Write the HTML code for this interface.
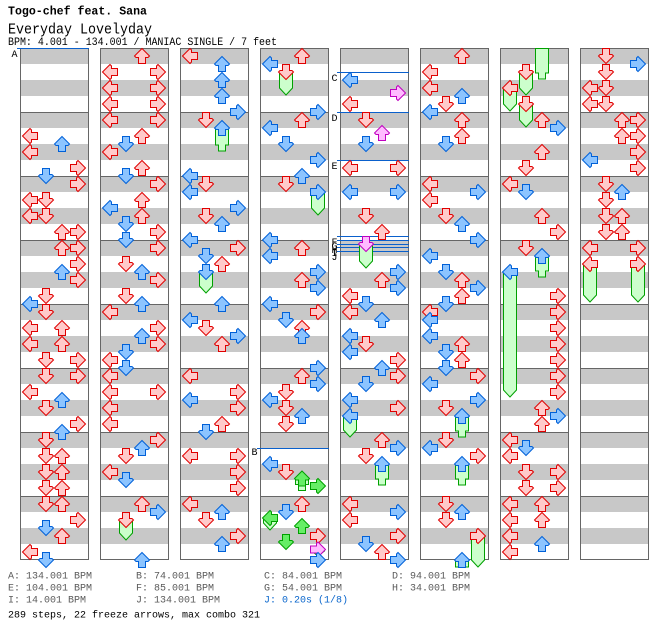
<!DOCTYPE html>
<html><head><meta charset="utf-8"><style>
html,body{margin:0;padding:0;background:#fff;}
svg{display:block;}
.q{fill:#ffcaca;stroke:#e00000;stroke-width:1}
.e{fill:#8cc4ff;stroke:#0060d8;stroke-width:1}
.g{fill:#66ee66;stroke:#00a000;stroke-width:1}
.s{fill:#ffbbff;stroke:#c000c0;stroke-width:1}
.f{fill:#ccffcc;stroke:#00a000;stroke-width:1}
text{font-family:"Liberation Mono",monospace;}
</style></head><body>
<svg width="672" height="644" viewBox="0 0 672 644" xmlns="http://www.w3.org/2000/svg">
<defs>
<pattern id="st" patternUnits="userSpaceOnUse" x="0" y="48" width="672" height="64"><rect width="672" height="16" fill="#c8c8c8"/><rect y="32" width="672" height="16" fill="#c8c8c8"/><rect width="672" height="1" fill="#666"/></pattern>
<path id="U" d="M8 .5L15.5 8L14 9.5H11.5V15.5H4.5V9.5H2L.5 8Z"/>
<path id="D" d="M8 15.5L.5 8L2 6.5H4.5V.5H11.5V6.5H14L15.5 8Z"/>
<path id="L" d="M.5 8L8 .5L9.5 2V4.5H15.5V11.5H9.5V14L8 15.5Z"/>
<path id="R" d="M15.5 8L8 .5L6.5 2V4.5H.5V11.5H6.5V14L8 15.5Z"/>
</defs>
<rect width="672" height="644" fill="#fff"/>
<text x="8" y="14.5" font-size="12" font-weight="bold" textLength="139" lengthAdjust="spacingAndGlyphs">Togo-chef feat. Sana</text>
<text x="8" y="33.5" font-size="15" textLength="144" lengthAdjust="spacingAndGlyphs">Everyday Lovelyday</text>
<text x="8" y="45" font-size="11" textLength="269" lengthAdjust="spacingAndGlyphs">BPM: 4.001 - 134.001 / MANIAC SINGLE / 7 feet</text>

<g>
<rect x="20" y="48" width="68" height="512" fill="url(#st)"/><rect x="20.5" y="48.5" width="68" height="511" fill="none" stroke="#666"/>
<rect x="100" y="48" width="68" height="512" fill="url(#st)"/><rect x="100.5" y="48.5" width="68" height="511" fill="none" stroke="#666"/>
<rect x="180" y="48" width="68" height="512" fill="url(#st)"/><rect x="180.5" y="48.5" width="68" height="511" fill="none" stroke="#666"/>
<rect x="260" y="48" width="68" height="512" fill="url(#st)"/><rect x="260.5" y="48.5" width="68" height="511" fill="none" stroke="#666"/>
<rect x="340" y="48" width="68" height="512" fill="url(#st)"/><rect x="340.5" y="48.5" width="68" height="511" fill="none" stroke="#666"/>
<rect x="420" y="48" width="68" height="512" fill="url(#st)"/><rect x="420.5" y="48.5" width="68" height="511" fill="none" stroke="#666"/>
<rect x="500" y="48" width="68" height="512" fill="url(#st)"/><rect x="500.5" y="48.5" width="68" height="511" fill="none" stroke="#666"/>
<rect x="580" y="48" width="68" height="512" fill="url(#st)"/><rect x="580.5" y="48.5" width="68" height="511" fill="none" stroke="#666"/>
</g>

<g stroke="#0a60cc" stroke-width="1">
<line x1="17" y1="48.5" x2="89" y2="48.5"/>
<line x1="257" y1="448.5" x2="329" y2="448.5"/>
<line x1="337" y1="72.5" x2="409" y2="72.5"/>
<line x1="337" y1="112.5" x2="409" y2="112.5"/>
<line x1="337" y1="160.5" x2="409" y2="160.5"/>
<line x1="337" y1="236.5" x2="409" y2="236.5"/>
<line x1="337" y1="240.5" x2="409" y2="240.5"/>
<line x1="337" y1="244.5" x2="409" y2="244.5"/>
<line x1="337" y1="247.5" x2="409" y2="247.5"/>
<line x1="337" y1="251.5" x2="409" y2="251.5"/>
</g>
<g font-size="10" fill="#000">
<text x="11.5" y="57">A</text>
<text x="251.5" y="455">B</text>
<text x="331.5" y="81">C</text>
<text x="331.5" y="121">D</text>
<text x="331.5" y="169">E</text>
<text x="331.5" y="245">F</text>
<text x="331.5" y="249">G</text>
<text x="331.5" y="253">H</text>
<text x="331.5" y="256">I</text>
<text x="331.5" y="260">J</text>
</g>

<g class="f">
<path d="M119.5 520H132.5V533L126 540L119.5 533Z"/>
<path d="M215.5 128H228.5V145H225.5V151H218.5V145H215.5Z"/>
<path d="M199.5 272H212.5V286L206 293L199.5 286Z"/>
<path d="M279.5 72H292.5V88L286 95L279.5 88Z"/>
<path d="M311.5 192H324.5V208L318 215L311.5 208Z"/>
<path d="M295.5 478.5H308.5V484.5H305.5V490.5H298.5V484.5H295.5Z"/>
<path d="M263.5 518H276.5V523L270 530L263.5 523Z"/>
<path d="M311.5 549H324.5V551L318 556L311.5 551Z"/>
<path d="M359.5 244H372.5V261L366 268L359.5 261Z"/>
<path d="M343.5 416H356.5V430L350 437L343.5 430Z"/>
<path d="M375.5 464H388.5V479H385.5V485H378.5V479H375.5Z"/>
<path d="M455.5 416H468.5V431H465.5V437H458.5V431H455.5Z"/>
<path d="M455.5 464H468.5V479H465.5V485H458.5V479H455.5Z"/>
<path d="M471.5 536H484.5V560L478 567L471.5 560Z"/>
<path d="M455.5 560H468.5V567H455.5Z"/>
<path d="M535.5 48.5H548.5V73H545.5V79H538.5V73H535.5Z"/>
<path d="M519.5 72H532.5V88L526 95L519.5 88Z"/>
<path d="M503.5 88H516.5V104L510 111L503.5 104Z"/>
<path d="M519.5 104H532.5V120L526 127L519.5 120Z"/>
<path d="M535.5 256H548.5V271H545.5V277H538.5V271H535.5Z"/>
<path d="M503.5 272H516.5V390L510 397L503.5 390Z"/>
<path d="M583.5 264H596.5V295L590 302L583.5 295Z"/>
<path d="M631.5 264H644.5V295L638 302L631.5 295Z"/>
</g>

<g class="q">
<use href="#L" x="22" y="128"/><use href="#L" x="22" y="144"/><use href="#R" x="70" y="160"/><use href="#R" x="70" y="176"/>
<use href="#L" x="22" y="192"/><use href="#D" x="38" y="192"/><use href="#L" x="22" y="208"/><use href="#D" x="38" y="208"/>
<use href="#U" x="54" y="224"/><use href="#R" x="70" y="224"/><use href="#U" x="54" y="240"/><use href="#R" x="70" y="240"/>
<use href="#R" x="70" y="256"/><use href="#R" x="70" y="272"/><use href="#D" x="38" y="288"/><use href="#D" x="38" y="304"/>
<use href="#L" x="22" y="320"/><use href="#U" x="54" y="320"/><use href="#L" x="22" y="336"/><use href="#U" x="54" y="336"/>
<use href="#D" x="38" y="352"/><use href="#R" x="70" y="352"/><use href="#D" x="38" y="368"/><use href="#R" x="70" y="368"/>
<use href="#L" x="22" y="384"/><use href="#D" x="38" y="400"/><use href="#R" x="70" y="416"/><use href="#D" x="38" y="432"/>
<use href="#D" x="38" y="448"/><use href="#U" x="54" y="448"/><use href="#D" x="38" y="464"/><use href="#U" x="54" y="464"/>
<use href="#D" x="38" y="480"/><use href="#U" x="54" y="480"/><use href="#D" x="38" y="496"/><use href="#U" x="54" y="496"/>
<use href="#R" x="70" y="512"/><use href="#U" x="54" y="528"/><use href="#L" x="22" y="544"/>

<use href="#U" x="134" y="48"/><use href="#L" x="102" y="64"/><use href="#R" x="150" y="64"/><use href="#L" x="102" y="80"/><use href="#R" x="150" y="80"/>
<use href="#L" x="102" y="96"/><use href="#R" x="150" y="96"/><use href="#L" x="102" y="112"/><use href="#R" x="150" y="112"/>
<use href="#U" x="134" y="128"/><use href="#L" x="102" y="144"/><use href="#U" x="134" y="160"/><use href="#R" x="150" y="176"/>
<use href="#U" x="134" y="192"/><use href="#U" x="134" y="208"/><use href="#R" x="150" y="224"/><use href="#R" x="150" y="240"/>
<use href="#D" x="118" y="256"/><use href="#R" x="150" y="272"/><use href="#D" x="118" y="288"/><use href="#L" x="102" y="304"/>
<use href="#R" x="150" y="320"/><use href="#R" x="150" y="336"/><use href="#L" x="102" y="352"/><use href="#L" x="102" y="368"/>
<use href="#L" x="102" y="384"/><use href="#R" x="150" y="384"/><use href="#L" x="102" y="400"/><use href="#L" x="102" y="416"/>
<use href="#R" x="150" y="432"/><use href="#D" x="118" y="448"/><use href="#L" x="102" y="464"/><use href="#U" x="134" y="496"/>
<use href="#D" x="118" y="512"/>

<use href="#L" x="182" y="48"/><use href="#D" x="198" y="112"/><use href="#D" x="198" y="176"/><use href="#D" x="198" y="208"/>
<use href="#R" x="230" y="240"/><use href="#U" x="214" y="256"/><use href="#D" x="198" y="320"/><use href="#U" x="214" y="336"/>
<use href="#L" x="182" y="368"/><use href="#R" x="230" y="384"/><use href="#R" x="230" y="400"/><use href="#U" x="214" y="416"/>
<use href="#L" x="182" y="448"/><use href="#R" x="230" y="448"/><use href="#R" x="230" y="464"/><use href="#R" x="230" y="480"/>
<use href="#L" x="182" y="496"/><use href="#D" x="198" y="512"/><use href="#R" x="230" y="528"/>

<use href="#U" x="294" y="48"/><use href="#D" x="278" y="64"/><use href="#U" x="294" y="112"/><use href="#D" x="278" y="176"/>
<use href="#U" x="294" y="240"/><use href="#U" x="294" y="272"/><use href="#R" x="310" y="304"/><use href="#U" x="294" y="320"/>
<use href="#U" x="294" y="368"/><use href="#D" x="278" y="384"/><use href="#D" x="278" y="400"/><use href="#D" x="278" y="416"/>
<use href="#D" x="278" y="464"/><use href="#U" x="294" y="496"/><use href="#R" x="310" y="528"/>

<use href="#L" x="342" y="96"/><use href="#D" x="358" y="112"/><use href="#L" x="342" y="160"/><use href="#R" x="390" y="160"/>
<use href="#D" x="358" y="208"/><use href="#U" x="374" y="224"/><use href="#U" x="374" y="272"/><use href="#L" x="342" y="288"/>
<use href="#L" x="342" y="304"/><use href="#D" x="358" y="336"/><use href="#R" x="390" y="352"/><use href="#R" x="390" y="368"/>
<use href="#R" x="390" y="400"/><use href="#U" x="374" y="432"/><use href="#D" x="358" y="448"/><use href="#L" x="342" y="496"/>
<use href="#L" x="342" y="512"/><use href="#R" x="390" y="528"/><use href="#U" x="374" y="544"/>

<use href="#U" x="454" y="48"/><use href="#L" x="422" y="64"/><use href="#L" x="422" y="80"/><use href="#D" x="438" y="96"/>
<use href="#U" x="454" y="112"/><use href="#U" x="454" y="128"/><use href="#L" x="422" y="176"/><use href="#L" x="422" y="192"/>
<use href="#D" x="438" y="208"/><use href="#U" x="454" y="272"/><use href="#U" x="454" y="288"/><use href="#L" x="422" y="304"/>
<use href="#U" x="454" y="336"/><use href="#U" x="454" y="352"/><use href="#R" x="470" y="368"/><use href="#D" x="438" y="400"/>
<use href="#D" x="438" y="432"/><use href="#R" x="470" y="448"/><use href="#D" x="438" y="496"/><use href="#D" x="438" y="512"/>
<use href="#R" x="470" y="528"/>

<use href="#D" x="518" y="64"/><use href="#L" x="502" y="80"/><use href="#D" x="518" y="96"/><use href="#U" x="534" y="112"/>
<use href="#U" x="534" y="144"/><use href="#D" x="518" y="160"/><use href="#L" x="502" y="176"/><use href="#U" x="534" y="208"/>
<use href="#R" x="550" y="224"/><use href="#D" x="518" y="240"/><use href="#R" x="550" y="288"/><use href="#R" x="550" y="304"/>
<use href="#R" x="550" y="320"/><use href="#R" x="550" y="336"/><use href="#R" x="550" y="352"/><use href="#R" x="550" y="368"/>
<use href="#R" x="550" y="384"/><use href="#U" x="534" y="400"/><use href="#U" x="534" y="416"/><use href="#L" x="502" y="432"/>
<use href="#L" x="502" y="448"/><use href="#D" x="518" y="464"/><use href="#R" x="550" y="464"/><use href="#D" x="518" y="480"/>
<use href="#R" x="550" y="480"/><use href="#L" x="502" y="496"/><use href="#U" x="534" y="496"/><use href="#L" x="502" y="512"/>
<use href="#U" x="534" y="512"/><use href="#L" x="502" y="528"/><use href="#L" x="502" y="544"/>

<use href="#D" x="598" y="48"/><use href="#D" x="598" y="64"/><use href="#L" x="582" y="80"/><use href="#D" x="598" y="80"/>
<use href="#L" x="582" y="96"/><use href="#D" x="598" y="96"/><use href="#U" x="614" y="112"/><use href="#R" x="630" y="112"/>
<use href="#U" x="614" y="128"/><use href="#R" x="630" y="128"/><use href="#R" x="630" y="144"/><use href="#R" x="630" y="160"/>
<use href="#D" x="598" y="176"/><use href="#D" x="598" y="192"/><use href="#D" x="598" y="208"/><use href="#U" x="614" y="208"/>
<use href="#D" x="598" y="224"/><use href="#U" x="614" y="224"/><use href="#L" x="582" y="240"/><use href="#R" x="630" y="240"/>
<use href="#L" x="582" y="256"/><use href="#R" x="630" y="256"/>
</g>

<g class="e">
<use href="#U" x="54" y="136"/><use href="#D" x="38" y="168"/><use href="#U" x="54" y="264"/><use href="#L" x="22" y="296"/>
<use href="#U" x="54" y="392"/><use href="#U" x="54" y="424"/><use href="#D" x="38" y="520"/><use href="#D" x="38" y="552"/>

<use href="#D" x="118" y="136"/><use href="#D" x="118" y="168"/><use href="#L" x="102" y="200"/><use href="#D" x="118" y="216"/>
<use href="#D" x="118" y="232"/><use href="#U" x="134" y="264"/><use href="#U" x="134" y="296"/><use href="#U" x="134" y="328"/>
<use href="#D" x="118" y="344"/><use href="#D" x="118" y="360"/><use href="#U" x="134" y="440"/><use href="#D" x="118" y="472"/>
<use href="#R" x="150" y="504"/><use href="#U" x="134" y="552"/>

<use href="#U" x="214" y="56"/><use href="#U" x="214" y="72"/><use href="#U" x="214" y="88"/><use href="#R" x="230" y="104"/>
<use href="#U" x="214" y="120"/><use href="#L" x="182" y="168"/><use href="#L" x="182" y="184"/><use href="#R" x="230" y="200"/>
<use href="#U" x="214" y="216"/><use href="#L" x="182" y="232"/><use href="#D" x="198" y="248"/><use href="#D" x="198" y="264"/>
<use href="#U" x="214" y="296"/><use href="#L" x="182" y="312"/><use href="#R" x="230" y="328"/><use href="#L" x="182" y="392"/>
<use href="#D" x="198" y="424"/><use href="#U" x="214" y="504"/><use href="#U" x="214" y="536"/>

<use href="#L" x="262" y="56"/><use href="#R" x="310" y="104"/><use href="#L" x="262" y="120"/><use href="#D" x="278" y="136"/>
<use href="#R" x="310" y="152"/><use href="#U" x="294" y="168"/><use href="#R" x="310" y="184"/><use href="#L" x="262" y="232"/>
<use href="#L" x="262" y="248"/><use href="#R" x="310" y="264"/><use href="#R" x="310" y="280"/><use href="#L" x="262" y="296"/>
<use href="#D" x="278" y="312"/><use href="#U" x="294" y="328"/><use href="#R" x="310" y="360"/><use href="#R" x="310" y="376"/>
<use href="#L" x="262" y="392"/><use href="#U" x="294" y="408"/><use href="#L" x="262" y="456"/><use href="#D" x="278" y="504"/>

<use href="#L" x="342" y="72"/><use href="#D" x="358" y="136"/><use href="#L" x="342" y="184"/><use href="#R" x="390" y="184"/>
<use href="#R" x="390" y="264"/><use href="#R" x="390" y="280"/><use href="#D" x="358" y="296"/><use href="#U" x="374" y="312"/>
<use href="#L" x="342" y="328"/><use href="#L" x="342" y="344"/><use href="#U" x="374" y="360"/><use href="#D" x="358" y="376"/>
<use href="#L" x="342" y="392"/><use href="#L" x="342" y="408"/><use href="#R" x="390" y="440"/><use href="#U" x="374" y="456"/>
<use href="#R" x="390" y="504"/><use href="#D" x="358" y="536"/><use href="#R" x="390" y="552"/>

<use href="#U" x="454" y="88"/><use href="#L" x="422" y="104"/><use href="#D" x="438" y="136"/><use href="#R" x="470" y="184"/>
<use href="#U" x="454" y="216"/><use href="#R" x="470" y="232"/><use href="#L" x="422" y="248"/><use href="#D" x="438" y="264"/>
<use href="#R" x="470" y="280"/><use href="#D" x="438" y="296"/><use href="#L" x="422" y="312"/><use href="#L" x="422" y="328"/>
<use href="#D" x="438" y="344"/><use href="#D" x="438" y="360"/><use href="#L" x="422" y="376"/><use href="#R" x="470" y="392"/>
<use href="#U" x="454" y="408"/><use href="#L" x="422" y="440"/><use href="#U" x="454" y="456"/><use href="#U" x="454" y="504"/>
<use href="#U" x="454" y="552"/>

<use href="#R" x="550" y="120"/><use href="#D" x="518" y="184"/><use href="#U" x="534" y="248"/><use href="#L" x="502" y="264"/>
<use href="#R" x="550" y="408"/><use href="#D" x="518" y="440"/><use href="#U" x="534" y="536"/>

<use href="#R" x="630" y="56"/><use href="#L" x="582" y="152"/><use href="#U" x="614" y="184"/>
</g>

<g class="s">
<use href="#R" x="390" y="85"/><use href="#U" x="374" y="125"/><use href="#D" x="358" y="236"/>
</g>
<g class="g">
<use href="#U" x="294" y="470.5"/><use href="#R" x="310" y="478"/><use href="#L" x="262" y="510"/><use href="#U" x="294" y="518"/><use href="#D" x="278" y="534"/>
</g>
<use href="#R" x="310" y="541.5" class="s"/>
<use href="#R" x="310" y="552" class="e"/>

<g font-size="10" fill="#5a5a5a">
<text x="8" y="578.5">A: 134.001 BPM</text>
<text x="136" y="578.5">B: 74.001 BPM</text>
<text x="264" y="578.5">C: 84.001 BPM</text>
<text x="392" y="578.5">D: 94.001 BPM</text>
<text x="8" y="590.5">E: 104.001 BPM</text>
<text x="136" y="590.5">F: 85.001 BPM</text>
<text x="264" y="590.5">G: 54.001 BPM</text>
<text x="392" y="590.5">H: 34.001 BPM</text>
<text x="8" y="602.5">I: 14.001 BPM</text>
<text x="136" y="602.5">J: 134.001 BPM</text>
<text x="264" y="602.5" fill="#0a66cc">J: 0.20s (1/8)</text>
</g>
<text x="8" y="617.5" font-size="10" fill="#000">289 steps, 22 freeze arrows, max combo 321</text>
</svg>
</body></html>
